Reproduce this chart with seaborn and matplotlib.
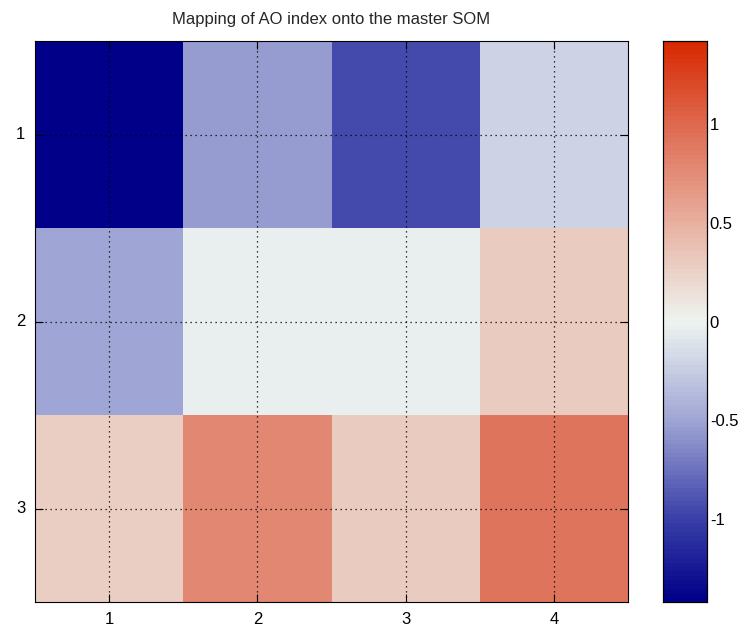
import numpy as np
import pandas as pd
import matplotlib
matplotlib.use("Agg")
import matplotlib.pyplot as plt
from matplotlib.colors import LinearSegmentedColormap
import seaborn as sns

# ---------------- DATA ----------------
rows = [1, 2, 3]
cols = [1, 2, 3, 4]
ao_row1 = [-1.42, -0.55, -0.95, -0.20]
ao_row2 = [-0.50, -0.03, -0.03, 0.30]
ao_row3 = [0.27, 0.78, 0.30, 0.93]

cbar_ticks = [-1, -0.5, 0, 0.5, 1]
cbar_labels = ["-1", "-0.5", "0", "0.5", "1"]

df = pd.DataFrame([ao_row1, ao_row2, ao_row3], index=rows, columns=cols)

# ---------------- COLORMAP ----------------
vlim = 1.42
anchors = [
    (0.0, "#000088"),
    ((-1.0 + vlim) / (2 * vlim), "#3A40A8"),
    ((-0.5 + vlim) / (2 * vlim), "#A0A6D4"),
    (0.5, "#EEF4F0"),
    ((0.5 + vlim) / (2 * vlim), "#E8B0A0"),
    ((1.0 + vlim) / (2 * vlim), "#DE6A50"),
    (1.0, "#D82800"),
]
cmap = LinearSegmentedColormap.from_list("bwr_som", anchors, N=128)

# ---------------- PLOT ----------------
sns.set_style("white")
plt.rcParams["font.family"] = ["Liberation Sans", "DejaVu Sans"]

fig = plt.figure(figsize=(7.49, 6.32), dpi=100)
ax = fig.add_axes([35 / 749, 1 - 602 / 632, 593 / 749, 561 / 632])
cax = fig.add_axes([663 / 749, 1 - 602 / 632, 44 / 749, 561 / 632])

sns.heatmap(df, ax=ax, cbar_ax=cax, cmap=cmap, vmin=-vlim, vmax=vlim,
            linewidths=0)

for s in ax.spines.values():
    s.set_visible(True)
    s.set_color("black")
    s.set_linewidth(0.8)
ax.set_axisbelow(False)
ax.grid(True, linestyle=(0, (1, 3)), color="black", linewidth=0.9)
ax.tick_params(direction="in", length=6, width=0.8, colors="black",
               top=True, right=True, left=True, bottom=True,
               labelsize=12, pad=7)
ax.set_xticklabels([str(c) for c in cols], rotation=0)
ax.set_yticklabels([str(r) for r in rows], rotation=0)
ax.set_xlabel("")
ax.set_ylabel("")
ax.set_title("Mapping of AO index onto the master SOM", fontsize=12, pad=12)

cax.set_yticks(cbar_ticks)
cax.set_yticklabels(cbar_labels)
cax.tick_params(direction="in", length=6, width=0.8, colors="black",
                left=True, right=True, labelsize=12, pad=2)
for s in cax.spines.values():
    s.set_visible(True)
    s.set_color("black")
    s.set_linewidth(0.8)

fig.savefig("out.png", dpi=100)
